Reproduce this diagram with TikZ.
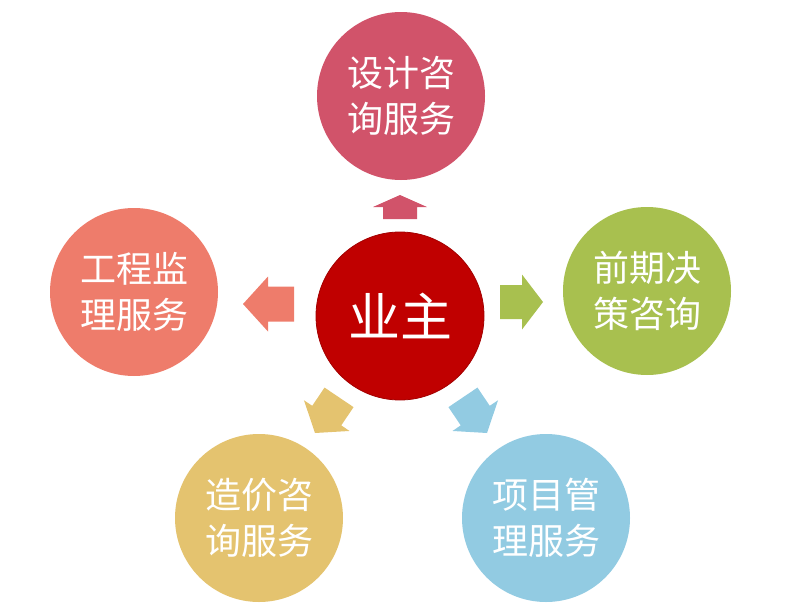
\documentclass[tikz,border=0pt]{standalone}
\usepackage{fontspec}
\newfontfamily\cjk{Noto Sans CJK SC}
\definecolor{ccenter}{HTML}{C00000}
\definecolor{ctop}{HTML}{D1536A}
\definecolor{cleft}{HTML}{EE7C6B}
\definecolor{cright}{HTML}{A8C04F}
\definecolor{cbl}{HTML}{E4C36F}
\definecolor{cbr}{HTML}{92CBE2}
\tikzset{
  x=1pt, y=1pt,
  bubble/.style={circle, minimum size=168pt, inner sep=0pt, text=white, align=center,
    font=\cjk\fontsize{36}{46}\selectfont},
  hub/.style={circle, minimum size=168pt, inner sep=0pt, text=white, fill=ccenter,
    draw=ccenter!85!black, line width=0.8pt, font=\cjk\fontsize{52}{60}\selectfont},
  pics/blockarrow/.style n args={5}{code={
    \fill[#1] (0,0) -- (-#2,#4) -- (-#2,#5) -- (-#2-#3,#5) -- (-#2-#3,-#5)
      -- (-#2,-#5) -- (-#2,-#4) -- cycle;}}
}
\begin{document}
\begin{tikzpicture}
\useasboundingbox (0,0) rectangle (800,-605);
\node[hub] (owner) at (400,-316) {业主};
\node[bubble, fill=ctop] (design) at (401,-96) {设计咨\\询服务};
\node[bubble, fill=cleft] (super) at (134,-292) {工程监\\理服务};
\node[bubble, fill=cright] (early) at (647,-291) {前期决\\策咨询};
\node[bubble, fill=cbl] (cost) at (259,-518) {造价咨\\询服务};
\node[bubble, fill=cbr] (pm) at (546,-518) {项目管\\理服务};
\coordinate (tipT) at (400,-195);
\coordinate (tipL) at (243,-304);
\coordinate (tipR) at (543,-302);
\coordinate (tipBL) at (315,-433);
\coordinate (tipBR) at (487,-433);
\pic[rotate=90] at (tipT) {blockarrow={ctop}{12}{12}{27}{17}};
\pic[rotate=180] at (tipL) {blockarrow={cleft}{25}{26}{27.5}{17.5}};
\pic[rotate=0] at (tipR) {blockarrow={cright}{21}{22}{27.5}{17}};
\pic[rotate=236] at (tipBL) {blockarrow={cbl}{21}{22}{27.5}{17.5}};
\pic[rotate=304] at (tipBR) {blockarrow={cbr}{21}{22}{27.5}{17.5}};
\end{tikzpicture}
\end{document}
